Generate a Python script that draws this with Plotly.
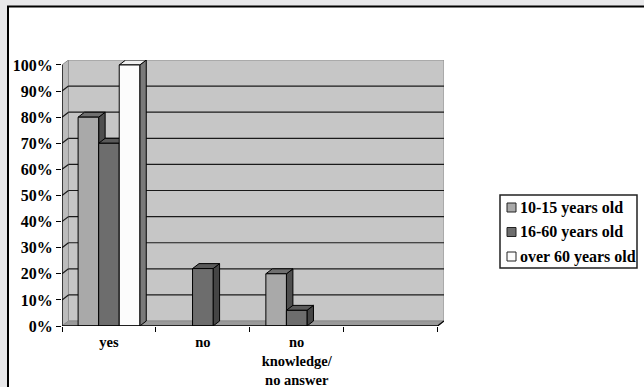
import plotly.graph_objects as go

# ---------------- data ----------------
categories = ['yes', 'no', 'no<br>knowledge/<br>no answer', '']
series_names = ['10-15 years old', '16-60 years old', 'over 60 years old']
age_10_15 = [80, 0, 20, 0]
age_16_60 = [70, 22, 6, 0]
age_over_60 = [100, 0, 0, 0]
y_tick_values = [0, 10, 20, 30, 40, 50, 60, 70, 80, 90, 100]
y_tick_labels = ['0%', '10%', '20%', '30%', '40%', '50%', '60%', '70%', '80%', '90%', '100%']

series_values = [age_10_15, age_16_60, age_over_60]

# ---------------- styles ----------------
front_colors = ['#a9a9a9', '#6d6d6d', '#fcfcfc']
side_colors = ['#4e4e4e', '#454545', '#7a7a7a']
top_colors = ['#707070', '#5a5a5a', '#efefef']
FONT = dict(family='Liberation Serif', size=16, color='black', weight='bold')
XFONT = dict(family='Liberation Serif', size=14.5, color='black', weight='bold')

BAR_W = 0.219   # bar width in category units
DX = 0.069      # depth offset (x, category units)
DY = 1.9        # depth offset (y, percent units)
n_cat = len(categories)
X0, X1 = -0.5, n_cat - 0.5

# pixel geometry of the plot area (for paper-referenced decorations)
W, H = 644, 387
ML, MR, MT, MB = 62, 200, 60, 61
PW, PH = W - ML - MR, H - MT - MB
def px(xp):
    return (xp - ML) / PW
def py(yp):
    return (H - MB - yp) / PH

fig = go.Figure()

# bars (front faces)
for k, (name, vals) in enumerate(zip(series_names, series_values)):
    off = -1.5 * BAR_W + k * BAR_W
    fig.add_trace(go.Bar(
        x=list(range(n_cat)), y=[v if v > 0 else None for v in vals],
        width=BAR_W, offset=off, name=name, showlegend=False,
        marker=dict(color=front_colors[k], line=dict(color='black', width=1)),
        hoverinfo='skip'))

shapes = []
annotations = []
# outer frame and background
shapes.append(dict(type='rect', xref='paper', yref='paper', layer='below',
                   x0=px(8), x1=px(700), y0=py(430), y1=py(6.5), fillcolor='white',
                   line=dict(color='black', width=2)))

def poly(pts, fill, line_color='black', lw=1, layer='below'):
    path = 'M ' + ' L '.join(f'{x},{y}' for x, y in pts) + ' Z'
    return dict(type='path', xref='x', yref='y', path=path, fillcolor=fill,
                line=dict(color=line_color, width=lw), layer=layer)

ytop = y_tick_values[-1]
# back wall
shapes.append(poly([(X0 + DX, DY), (X1 + DX, DY), (X1 + DX, ytop + DY), (X0 + DX, ytop + DY)],
                   '#c6c6c6', '#8e8e8e', 1))
# left wall
shapes.append(poly([(X0, 0), (X0 + DX, DY), (X0 + DX, ytop + DY), (X0, ytop)],
                   '#bcbcbc', '#8e8e8e', 1))
# floor
shapes.append(poly([(X0, 0), (X1, 0), (X1 + DX, DY), (X0 + DX, DY)],
                   '#9a9a9a', '#8e8e8e', 1))
# gridlines
for v in y_tick_values[1:-1]:
    shapes.append(dict(type='line', xref='x', yref='y', layer='below',
                       x0=X0 + DX, x1=X1 + DX, y0=v + DY, y1=v + DY,
                       line=dict(color='#1a1a1a', width=1.2)))
    shapes.append(dict(type='line', xref='x', yref='y', layer='below',
                       x0=X0, x1=X0 + DX, y0=v, y1=v + DY,
                       line=dict(color='#1a1a1a', width=1.2)))

# 3D side and top faces of bars
for i in range(n_cat):
    for k, vals in enumerate(series_values):
        v = vals[i]
        if v <= 0:
            continue
        left = i - 1.5 * BAR_W + k * BAR_W
        right = left + BAR_W
        shapes.append(poly([(right, 0), (right + DX, DY), (right + DX, v + DY), (right, v)],
                           side_colors[k]))
        shapes.append(poly([(left, v), (left + DX, v + DY), (right + DX, v + DY), (right, v)],
                           top_colors[k]))

# axis lines
shapes.append(dict(type='line', xref='x', yref='y', layer='above',
                   x0=X0, x1=X0, y0=0, y1=ytop, line=dict(color='black', width=1.3)))
shapes.append(dict(type='line', xref='x', yref='y', layer='above',
                   x0=X0, x1=X1, y0=0, y1=0, line=dict(color='black', width=1.3)))
shapes.append(dict(type='line', xref='x', yref='y', layer='above',
                   x0=X1, x1=X1 + DX, y0=0, y1=DY, line=dict(color='black', width=1.3)))

# legend (box, swatches, labels)
LEG_X0, LEG_X1, LEG_Y0, LEG_Y1 = 500, 637, 195, 268
shapes.append(dict(type='rect', xref='paper', yref='paper', layer='above',
                   x0=px(LEG_X0), x1=px(LEG_X1), y0=py(LEG_Y1), y1=py(LEG_Y0),
                   fillcolor='white', line=dict(color='#222222', width=1.5)))
item_centers = [207.5, 232, 256.5]
for k, name in enumerate(series_names):
    yc = item_centers[k]
    shapes.append(dict(type='rect', xref='paper', yref='paper', layer='above',
                       x0=px(507), x1=px(516), y0=py(yc + 4.5), y1=py(yc - 4.5),
                       fillcolor=front_colors[k], line=dict(color='#222222', width=1)))
    annotations.append(dict(xref='paper', yref='paper', x=px(518), y=py(yc),
                            xanchor='left', yanchor='middle', text=name,
                            showarrow=False, font=FONT))

fig.update_layout(
    width=W, height=H,
    margin=dict(l=ML, r=MR, t=MT, b=MB, autoexpand=False),
    paper_bgcolor='#e8e8ea', plot_bgcolor='rgba(0,0,0,0)',
    font=FONT,
    barmode='overlay',
    shapes=shapes,
    annotations=annotations,
    showlegend=False,
    xaxis=dict(range=[X0, X1 + DX], showgrid=False, zeroline=False, showline=False,
               automargin=False,
               tickmode='array', tickvals=list(range(n_cat)), ticktext=categories,
               ticks='outside', ticklen=3, tickcolor='rgba(0,0,0,0)', tickfont=XFONT,
               minor=dict(tickmode='array', tickvals=[X0 + j for j in range(n_cat + 1)],
                          ticks='outside', ticklen=5, tickcolor='black', tickwidth=1.3,
                          showgrid=False)),
    yaxis=dict(range=[0, ytop + DY], showgrid=False, zeroline=False, showline=False,
               automargin=False,
               tickmode='array', tickvals=y_tick_values, ticktext=y_tick_labels,
               ticks='outside', ticklen=5, tickcolor='black', tickwidth=1.3,
               tickfont=FONT),
)

fig.write_html('out.html')
